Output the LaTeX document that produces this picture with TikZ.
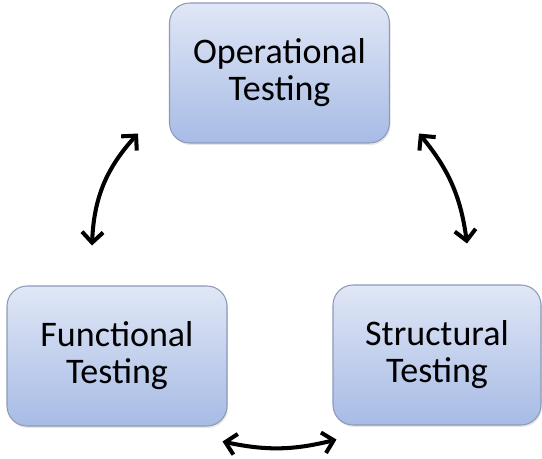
\documentclass[tikz,border=0pt]{standalone}
\usepackage{fontspec}
\setmainfont{Carlito}
\usetikzlibrary{arrows.meta,shadows}

\definecolor{boxtop}{RGB}{224,231,246}
\definecolor{boxbottom}{RGB}{167,187,229}
\definecolor{boxline}{RGB}{140,154,184}

\tikzset{
  test_box/.style={draw=boxline, line width=0.6pt, rounded corners=0.4cm,
      top color=boxtop, bottom color=boxbottom,
      drop shadow={opacity=0.2, shadow xshift=0.02cm, shadow yshift=-0.04cm},
      minimum width=4.4cm, minimum height=2.8cm, align=center,
      font=\fontsize{20.5}{21}\selectfont},
  link/.style={line width=2.3pt,
      {Straight Barb[length=6pt,width=12pt]}-{Straight Barb[length=6pt,width=12pt]}}
}
\def\pxunit {0.02cm}

\begin{document}
\begin{tikzpicture}[x=\pxunit, y=-\pxunit]
        \useasboundingbox (0,0) rectangle (542,458);
        \node[test_box] (optest) at (279.5,73) {Operational\\Testing};
        \node[test_box] (ftest) at (117,356) {Functional\\Testing};
        \node[test_box, minimum width=4.16cm] (stest) at (437,355) {Structural\\Testing};
        % curved two-way links between the three boxes
        \draw[link] ([shift={(-25,-40)}]ftest.north) to[bend left=20] ([shift={(-31,-10)}]optest.south west);
        \draw[link] ([shift={(29,-10)}]optest.south east) to[bend left=16] ([shift={(30,-41)}]stest.north);
        \draw[link] ([shift={(-5,15)}]ftest.south east) to[bend right=13] ([shift={(4,14)}]stest.south west);
      \end{tikzpicture}
\end{document}
